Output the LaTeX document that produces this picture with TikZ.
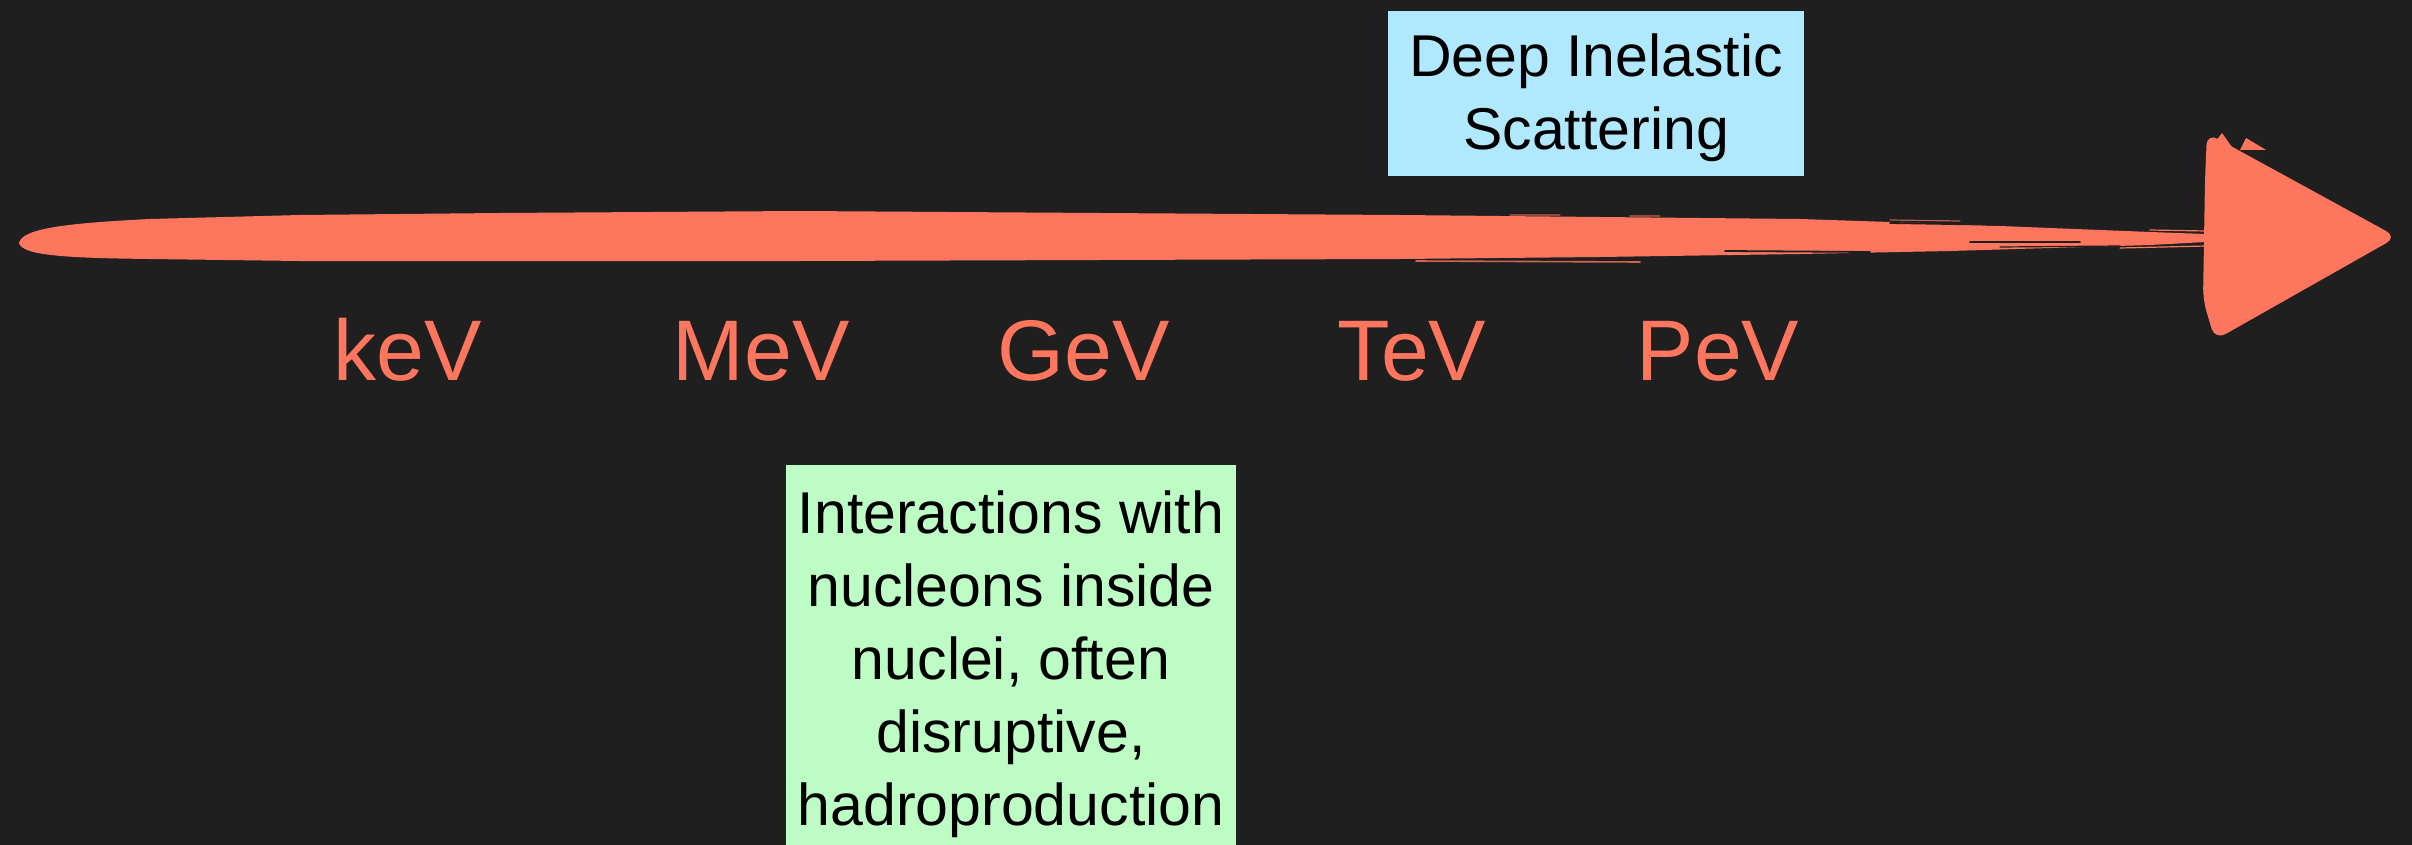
\documentclass[tikz,border=0pt]{standalone}
\usepackage{fontspec}
\setmainfont{Liberation Sans}
\definecolor{bgdark}{RGB}{31,31,31}
\definecolor{salmon}{RGB}{255,118,95}
\definecolor{skyfill}{RGB}{176,232,254}
\definecolor{mintfill}{RGB}{190,252,198}

\begin{document}
\begin{tikzpicture}[x=1pt,y=-1pt,
  scalelabel/.style={text=salmon, font=\fontsize{86}{100}\selectfont, anchor=base, inner sep=0pt},
  notebox/.style={draw=none, inner sep=0pt, anchor=north west},
  notetext/.style={font=\fontsize{59}{73}\selectfont, align=center, anchor=base, inner sep=0pt, text=black},
  gapline/.style={draw=bgdark, line width=1.8pt, line cap=round},
  hairline/.style={draw=salmon, line width=1.6pt, line cap=round}]

% canvas
\fill[bgdark] (0,0) rectangle (2412,845);
\useasboundingbox (0,0) rectangle (2412,845);

% brush-stroke shaft of the energy axis
\fill[salmon] (19,243)
  .. controls (22,228) and (70,223) .. (150,219)
  -- (300,215) -- (500,213) -- (800,211) -- (1100,213) -- (1400,215)
  -- (1600,217) -- (1800,219) -- (1950,224) -- (2050,228) -- (2150,232) -- (2206,234)
  -- (2206,242) -- (2150,245) -- (2050,248) -- (1950,251) -- (1800,254)
  -- (1600,257) -- (1400,259) -- (1100,260) -- (800,261) -- (500,261) -- (300,261) -- (150,259)
  .. controls (70,258) and (22,256) .. (19,243) -- cycle;

% dry-brush gaps and loose bristle marks
\draw[gapline] (1890,223) -- (2070,226);
\draw[gapline] (1725,251) -- (1870,252);
\draw[gapline] (1970,242) -- (2080,242);
\draw[gapline, line width=1.2pt] (2000,247) -- (2120,246);
\draw[hairline, opacity=0.8] (1416,261) -- (1640,262);
\draw[hairline, line width=1.2pt, opacity=0.5] (1510,215) -- (1560,215);
\draw[hairline, line width=1.2pt, opacity=0.5] (1630,216) -- (1660,216);
\draw[hairline, line width=1.2pt, opacity=0.7] (1890,220) -- (1960,221);
\draw[hairline, line width=1.2pt] (2150,230) -- (2206,231);
\draw[hairline, line width=1.2pt] (2120,248) -- (2206,246);

% arrowhead
\fill[salmon, rounded corners=12pt] (2207,133) -- (2397,237) -- (2215,340) -- (2203,300) -- (2205,180) -- cycle;
\fill[salmon] (2209,150) -- (2222,133) -- (2234,150) -- cycle;
\fill[salmon] (2240,150) -- (2246,138) -- (2266,150) -- cycle;

% energy scale labels
\node[scalelabel] (kev) at (408,380) {keV};
\node[scalelabel] (mev) at (761,380) {MeV};
\node[scalelabel] (gev) at (1084,380) {GeV};
\node[scalelabel] (tev) at (1412,380) {TeV};
\node[scalelabel] (pev) at (1718,380) {PeV};

% process boxes (text nodes anchored at the baseline of their last line)
\node[notebox, fill=skyfill, minimum width=416pt, minimum height=165pt] (disbox) at (1388,11) {};
\node[notetext] (distext) at (1596,150) {Deep Inelastic\\Scattering};

\node[notebox, fill=mintfill, minimum width=450pt, minimum height=400pt] (nucbox) at (786,465) {};
\node[notetext] (nuctext) at (1011,825) {Interactions with\\nucleons inside\\nuclei, often\\disruptive,\\hadroproduction};
\end{tikzpicture}
\end{document}
